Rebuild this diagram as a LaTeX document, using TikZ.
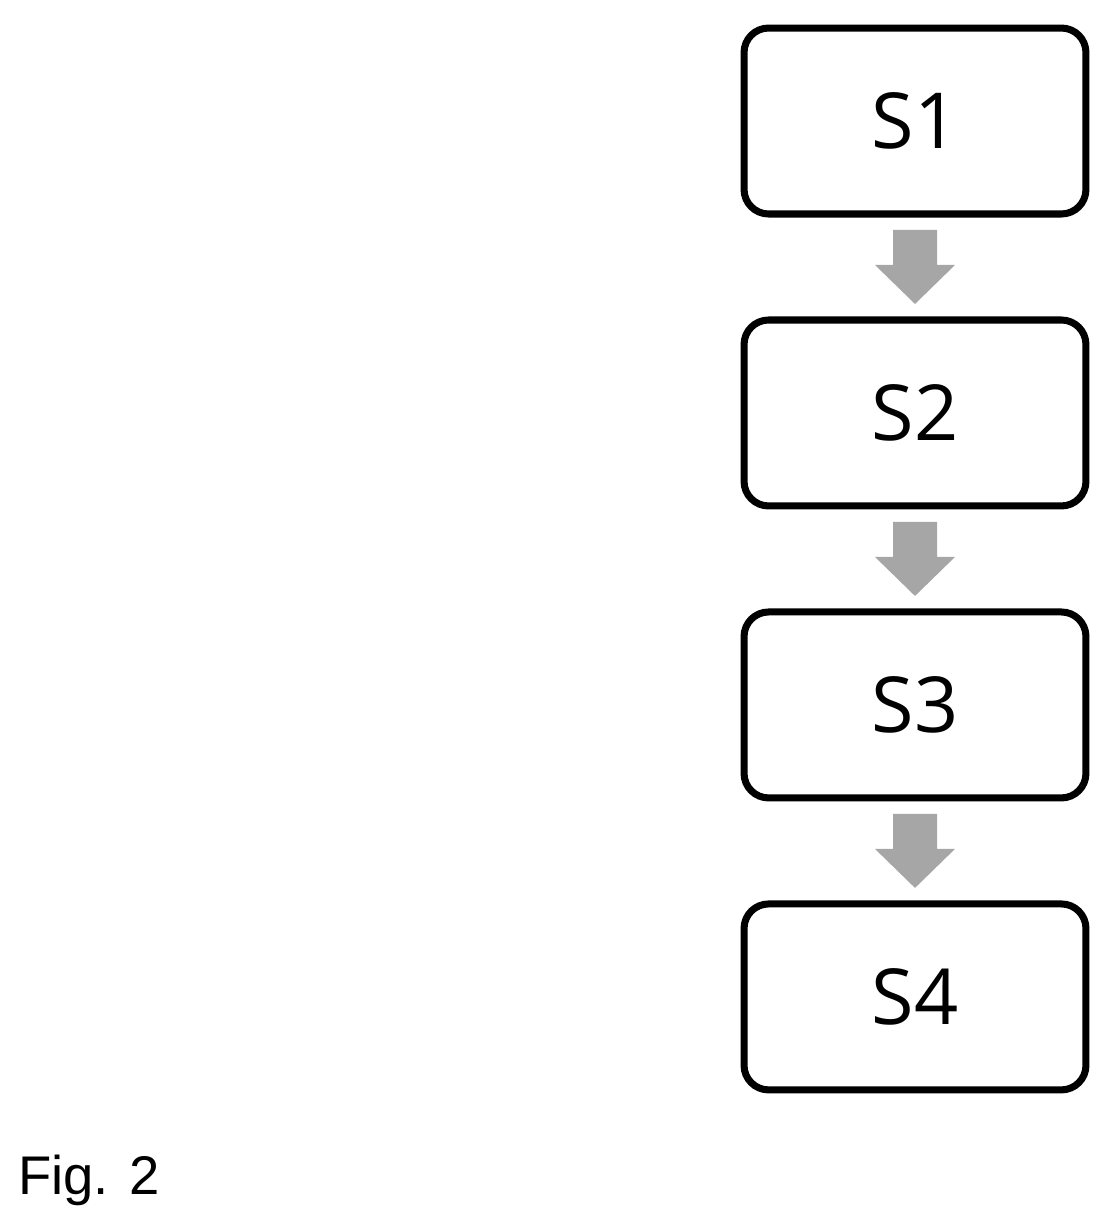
\documentclass[tikz,border=0pt]{standalone}
\usepackage{fontspec}
\setmainfont{Open Sans}
\newfontfamily\figfont{Liberation Sans}
\usetikzlibrary{positioning}
\tikzset{
  stepbox/.style={draw, line width=4pt, rounded corners=14pt, minimum width=6.84cm,
    minimum height=3.72cm, font=\fontsize{44}{50}\selectfont},
  flowarrow/.style={fill=black!35, draw=none}
}
\begin{document}
\begin{tikzpicture}[x=0.02cm,y=-0.02cm,node distance=1.98cm]
    \useasboundingbox (0,0) rectangle (1112,1231);

    % steps
    \node[stepbox] (s1) at (915,121) {S1};
    \node[stepbox, below=of s1] (s2) {S2};
    \node[stepbox, below=of s2] (s3) {S3};
    \node[stepbox, below=of s3] (s4) {S4};

    % arrows between steps
    \foreach \a/\b in {s1/s2, s2/s3, s3/s4} {
      \fill[flowarrow] ([xshift=-0.44cm,yshift=-0.25cm]\a.south)
        -- ([xshift=0.44cm,yshift=-0.25cm]\a.south)
        -- ([xshift=0.44cm,yshift=-0.95cm]\a.south)
        -- ([xshift=0.8cm,yshift=-0.95cm]\a.south)
        -- ([yshift=0.25cm]\b.north)
        -- ([xshift=-0.8cm,yshift=-0.95cm]\a.south)
        -- ([xshift=-0.44cm,yshift=-0.95cm]\a.south) -- cycle;
    }

    % caption
    \node[anchor=west, font=\figfont\fontsize{31}{36}\selectfont] (fig) at (12,1180) {Fig. 2};
\end{tikzpicture}
\end{document}
